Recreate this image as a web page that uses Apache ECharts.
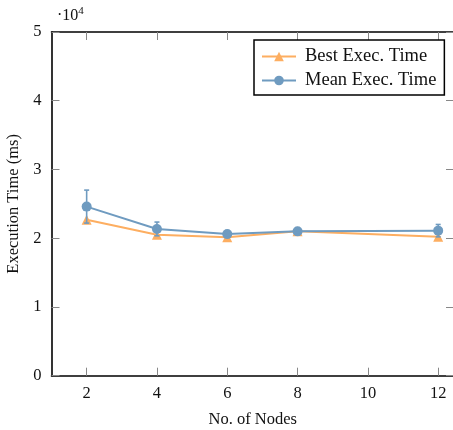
<!DOCTYPE html>
<html>
<head>
<meta charset="utf-8">
<script src="https://cdn.jsdelivr.net/npm/echarts@6/dist/echarts.min.js"></script>
<style>html,body{margin:0;padding:0;background:#fff}#c{width:453px;height:430px}</style>
</head>
<body>
<div id="c"></div>
<script>
const nodes = [2, 4, 6, 8, 12];
const bestTime = [22700, 20500, 20150, 21000, 20200];
const meanTime = [24600, 21350, 20600, 21000, 21100];
const meanErr = [2400, 1000, 200, 150, 900];
const xTicks = [2, 4, 6, 8, 10, 12];
const yTicks = [0, 10000, 20000, 30000, 40000, 50000];

const FONT = 'Liberation Serif';
const FS = 16.5;
const ORANGE = '#fdae61';
const BLUE = '#6f9bc0';

const chart = echarts.init(document.getElementById('c'), null, {renderer: 'canvas'});
const bestData = nodes.map((x, i) => [x, bestTime[i]]);
const meanData = nodes.map((x, i) => [x, meanTime[i]]);
const errData = nodes.map((x, i) => [x, meanTime[i] - meanErr[i], meanTime[i] + meanErr[i]]);

const axisLineStyle = {color: '#000', width: 1.6};
const tickStyle = {color: '#888', width: 1};
chart.setOption({
  animation: false,
  textStyle: {fontFamily: FONT},
  grid: {left: 51.5, top: 32, width: 402.5, height: 343.7, containLabel: false, outerBoundsMode: 'none'},
  xAxis: [{
    type: 'value', min: 1, max: 12.45, position: 'bottom',
    axisLine: {show: true, onZero: false, lineStyle: axisLineStyle},
    axisTick: {show: true, inside: true, length: 8, customValues: xTicks, lineStyle: tickStyle},
    axisLabel: {customValues: xTicks, fontFamily: FONT, fontSize: FS, color: '#111', margin: 9},
    splitLine: {show: false},
    name: 'No. of Nodes', nameLocation: 'middle', nameGap: 35,
    nameTextStyle: {fontFamily: FONT, fontSize: FS, color: '#111'}
  }, {
    type: 'value', min: 1, max: 12.45, position: 'top',
    axisLine: {show: true, onZero: false, lineStyle: axisLineStyle},
    axisTick: {show: true, inside: true, length: 8, customValues: xTicks, lineStyle: tickStyle},
    axisLabel: {show: false},
    splitLine: {show: false}
  }],
  yAxis: [{
    type: 'value', min: 0, max: 50000, interval: 10000, position: 'left',
    axisLine: {show: true, onZero: false, lineStyle: axisLineStyle},
    axisTick: {show: true, inside: true, length: 8, lineStyle: tickStyle},
    axisLabel: {fontFamily: FONT, fontSize: FS, color: '#111', margin: 10, formatter: v => String(v / 10000)},
    splitLine: {show: false},
    name: 'Execution Time (ms)', nameLocation: 'middle', nameGap: 29, nameRotate: 90,
    nameTextStyle: {fontFamily: FONT, fontSize: FS, color: '#111'}
  }, {
    type: 'value', min: 0, max: 50000, interval: 10000, position: 'right',
    axisLine: {show: true, onZero: false, lineStyle: axisLineStyle},
    axisTick: {show: true, inside: true, length: 8, lineStyle: tickStyle},
    axisLabel: {show: false},
    splitLine: {show: false}
  }],
  legend: {
    show: true,
    left: 254, top: 40,
    orient: 'vertical',
    data: ['Best Exec. Time', 'Mean Exec. Time'],
    backgroundColor: '#fff',
    borderColor: '#000', borderWidth: 1.5, borderRadius: 0,
    padding: [7, 8, 5, 7],
    itemGap: 5, itemWidth: 34, itemHeight: 12,
    textStyle: {fontFamily: FONT, fontSize: 18.5, color: '#111', padding: [0, 0, 0, 4]}
  },
  graphic: [{
    type: 'text', left: 57, top: 6,
    style: {
      text: '·10{s|4}', fontFamily: FONT, fontSize: 16, fill: '#111',
      rich: {s: {fontFamily: FONT, fontSize: 11, verticalAlign: 'top', padding: [0, 0, 8, 0]}}
    }
  }],
  series: [{
    name: 'Best Exec. Time', type: 'line', data: bestData,
    symbol: 'triangle', symbolSize: 10,
    lineStyle: {color: ORANGE, width: 2}, itemStyle: {color: ORANGE},
    z: 3
  }, {
    name: 'Mean Exec. Time', type: 'line', data: meanData,
    symbol: 'circle', symbolSize: 10,
    lineStyle: {color: BLUE, width: 2}, itemStyle: {color: BLUE},
    z: 4
  }, {
    name: 'err', type: 'custom', data: errData, z: 5,
    encode: {x: 0, y: [1, 2]},
    renderItem: function (params, api) {
      const x = api.value(0);
      const lo = api.coord([x, api.value(1)]);
      const hi = api.coord([x, api.value(2)]);
      const w = 2.5;
      return {
        type: 'group',
        children: [
          {type: 'line', shape: {x1: hi[0], y1: hi[1], x2: lo[0], y2: lo[1]}, style: {stroke: BLUE, lineWidth: 1.6}},
          {type: 'line', shape: {x1: hi[0] - w, y1: hi[1], x2: hi[0] + w, y2: hi[1]}, style: {stroke: BLUE, lineWidth: 1.6}},
          {type: 'line', shape: {x1: lo[0] - w, y1: lo[1], x2: lo[0] + w, y2: lo[1]}, style: {stroke: BLUE, lineWidth: 1.6}}
        ]
      };
    }
  }]
});
</script>
</body>
</html>
